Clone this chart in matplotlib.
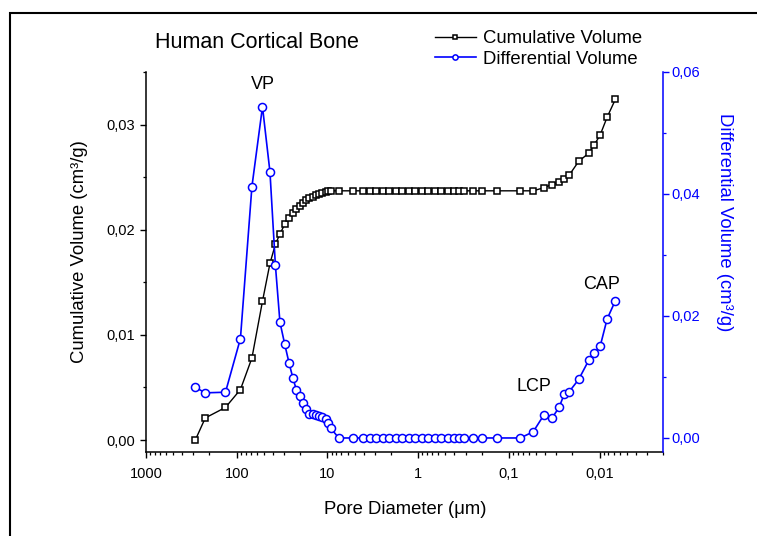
import matplotlib
matplotlib.use("Agg")
import matplotlib.pyplot as plt
from matplotlib.patches import Rectangle
from matplotlib.ticker import FixedLocator, FixedFormatter, LogLocator, MultipleLocator, FuncFormatter, NullFormatter

plt.rcParams["font.family"] = ["Liberation Sans", "DejaVu Sans"]

# pore diameter (um), shared by both curves
diameter = [
    286, 222, 133, 91, 68, 52, 43, 37.5, 33.4, 29.6, 26.5, 24.0, 22.0, 19.9,
    18.6, 17.4, 16.0, 14.6, 13.5, 12.4, 11.4, 10.4, 9.75, 9.2,
    7.5, 5.26, 4.03, 3.41, 2.89, 2.45, 2.08, 1.76, 1.49, 1.27, 1.07, 0.91,
    0.77, 0.65, 0.555, 0.47, 0.40, 0.356, 0.31, 0.246, 0.20, 0.135, 0.075,
    0.054, 0.041, 0.0337, 0.028, 0.0245, 0.0216, 0.0170, 0.0131, 0.0114,
    0.00987, 0.00826, 0.0067,
]

# cumulative intruded volume (cm3/g)
cumulative = [
    0.0, 0.0021, 0.0031, 0.0048, 0.0078, 0.0132, 0.0168, 0.0186, 0.0196,
    0.0205, 0.0211, 0.0216, 0.0220, 0.0223, 0.0225, 0.0228, 0.0230, 0.0231,
    0.0233, 0.0234, 0.0235, 0.0236, 0.0237, 0.0237,
    0.0237, 0.0237, 0.0237, 0.0237, 0.0237, 0.0237, 0.0237, 0.0237, 0.0237,
    0.0237, 0.0237, 0.0237, 0.0237, 0.0237, 0.0237, 0.0237, 0.0237, 0.0237,
    0.0237, 0.0237, 0.0237, 0.0237, 0.0237,
    0.0237, 0.0240, 0.0243, 0.0245, 0.0248, 0.0252, 0.0265, 0.0273, 0.0281,
    0.0290, 0.0307, 0.0324,
]

# differential intruded volume (cm3/g)
differential = [
    0.0083, 0.0074, 0.0075, 0.0163, 0.0412, 0.0543, 0.0436, 0.0284, 0.0190,
    0.0154, 0.0123, 0.0098, 0.0079, 0.0069, 0.0057, 0.0047, 0.0040, 0.0039,
    0.0038, 0.0036, 0.0034, 0.0031, 0.0025, 0.0016,
    0.0, 0.0, 0.0, 0.0, 0.0, 0.0, 0.0, 0.0, 0.0, 0.0, 0.0, 0.0, 0.0, 0.0,
    0.0, 0.0, 0.0, 0.0, 0.0, 0.0, 0.0, 0.0, 0.0,
    0.0010, 0.0038, 0.0032, 0.0050, 0.0072, 0.0076, 0.0096, 0.0128, 0.0139,
    0.0150, 0.0195, 0.0225,
]

x_ticks = [1000, 100, 10, 1, 0.1, 0.01]
x_tick_labels = ["1000", "100", "10", "1", "0,1", "0,01"]

# peak names: (label, diameter, differential volume)
peaks = [("VP", 52, 0.0579), ("LCP", 0.0528, 0.0085), ("CAP", 0.0094, 0.0251)]

W, H = 757, 536
fig = plt.figure(figsize=(W / 100, H / 100), dpi=100)
ax = fig.add_axes([146 / W, 1 - 452 / H, 517 / W, 380 / H])
ax2 = ax.twinx()

ax.plot(diameter, cumulative, color="black", lw=1.0, marker="s", ms=5,
        mfc="white", mec="black", mew=1.1, label="Cumulative Volume")
ax2.plot(diameter, differential, color="blue", lw=1.2, marker="o", ms=5.8,
         mfc="white", mec="blue", mew=1.1, label="Differential Volume")

ax.set_xscale("log")
ax.set_xlim(1000, 0.002)
ax.set_ylim(-0.00114, 0.035)
ax2.set_ylim(-0.0023, 0.06)

comma = FuncFormatter(lambda v, p: f"{v:.2f}".replace(".", ","))

ax.xaxis.set_major_locator(FixedLocator(x_ticks))
ax.xaxis.set_major_formatter(FixedFormatter(x_tick_labels))
ax.xaxis.set_minor_locator(LogLocator(base=10, subs=range(2, 10), numticks=20))
ax.xaxis.set_minor_formatter(NullFormatter())

ax.yaxis.set_major_locator(MultipleLocator(0.01))
ax.yaxis.set_minor_locator(MultipleLocator(0.005))
ax.yaxis.set_major_formatter(comma)
ax2.yaxis.set_major_locator(MultipleLocator(0.02))
ax2.yaxis.set_minor_locator(MultipleLocator(0.01))
ax2.yaxis.set_major_formatter(comma)

for s in ["top", "right"]:
    ax.spines[s].set_visible(False)
for s in ["top", "left", "bottom"]:
    ax2.spines[s].set_visible(False)
ax2.spines["right"].set_color("blue")
for s in ["left", "bottom"]:
    ax.spines[s].set_linewidth(1.1)
ax2.spines["right"].set_linewidth(1.1)

ax.tick_params(axis="both", which="major", direction="out", length=4, width=1, labelsize=10.5)
ax.tick_params(axis="both", which="minor", direction="out", length=2.2, width=0.9)
ax.tick_params(axis="x", pad=7)
ax.tick_params(axis="y", pad=4)
ax2.tick_params(axis="y", which="major", direction="out", length=4, width=1,
                labelsize=10.5, colors="blue", pad=2)
ax2.tick_params(axis="y", which="minor", direction="out", length=2.2, width=0.9, colors="blue")

fig.text(405 / W, 1 - 509 / H, "Pore Diameter (\u03bcm)", ha="center", va="center", fontsize=13.3)
fig.text(80 / W, 1 - 252 / H, "Cumulative Volume (cm\u00b3/g)", ha="center", va="center",
         rotation=90, fontsize=13.3)
fig.text(725 / W, 1 - 222 / H, "Differential Volume (cm\u00b3/g)", ha="center", va="center",
         rotation=270, fontsize=13.3, color="blue")
fig.text(257 / W, 1 - 43 / H, "Human Cortical Bone", ha="center", va="center", fontsize=15.5)

for name, d, v in peaks:
    ax2.text(d, v, name, ha="center", va="center", fontsize=13)

h1, l1 = ax.get_legend_handles_labels()
h2, l2 = ax2.get_legend_handles_labels()
fig.legend(h1 + h2, l1 + l2, loc="upper left", bbox_to_anchor=(435 / W, 1 - 30 / H),
           bbox_transform=fig.transFigure, frameon=False, fontsize=13.3,
           handlelength=2.2, handletextpad=0.4, borderpad=0, borderaxespad=0,
           labelspacing=0.2, markerscale=0.65)

fig.add_artist(Rectangle((10 / W, -0.1), 1.2, 1.1 - 13 / H, transform=fig.transFigure,
                         fill=False, lw=1.5, edgecolor="black", clip_on=False))

fig.savefig("out.png", dpi=100)
